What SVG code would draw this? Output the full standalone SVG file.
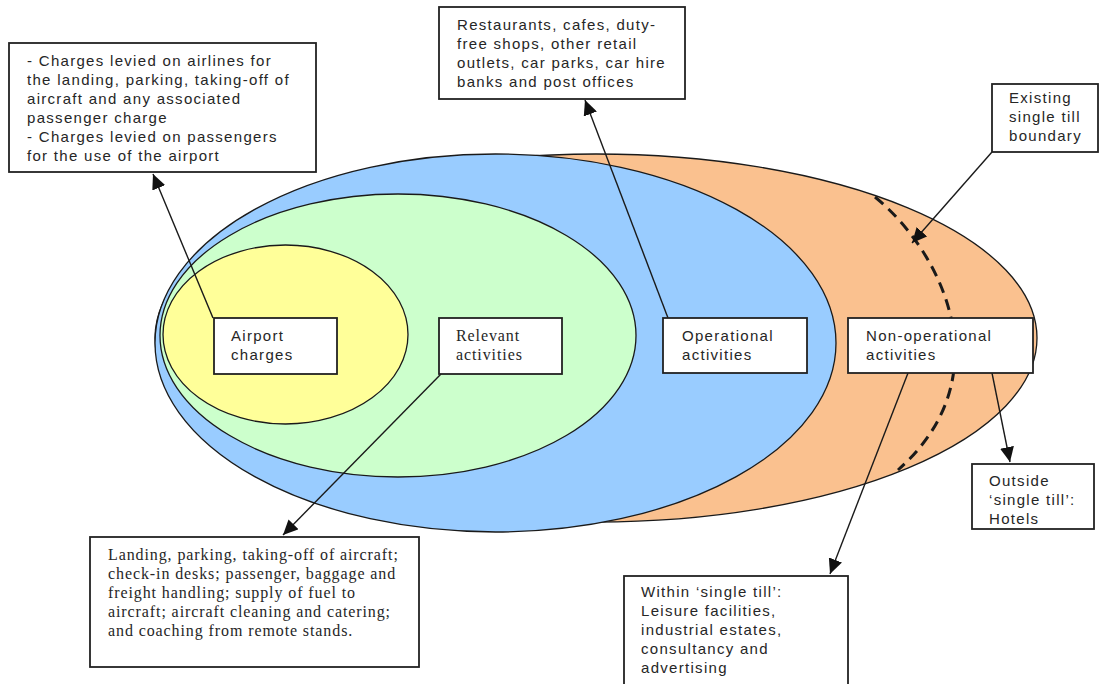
<svg xmlns="http://www.w3.org/2000/svg" width="1106" height="684" viewBox="0 0 1106 684">
<defs>
<style>
.bg{fill:#ffffff}
.ell{stroke:#1a1a1a;stroke-width:1.3}
.box{fill:#ffffff;stroke:#222;stroke-width:1.8}
.sans{font-family:"Liberation Sans",Arial,sans-serif;font-size:15px;letter-spacing:1.3px;fill:#262626}
.serif{font-family:"Liberation Serif","Times New Roman",serif;font-size:16px;letter-spacing:0.9px;fill:#262626}
.arrow{fill:none;stroke:#1a1a1a;stroke-width:1.4;marker-end:url(#ah)}
.bound{fill:none;stroke:#1a1a1a;stroke-width:3;stroke-dasharray:11 7}
</style>
<marker id="ah" markerUnits="userSpaceOnUse" markerWidth="16" markerHeight="14" refX="15" refY="7" orient="auto">
<path d="M0,0 L15,7 L0,14 z" fill="#111"/>
</marker>
</defs>
<rect class="bg" x="0" y="0" width="1106" height="684"/>
<g id="regions">
<ellipse id="non-operational" class="ell" cx="596" cy="338" rx="441" ry="184" fill="#FAC18F"/>
<ellipse id="operational" class="ell" cx="495.5" cy="343" rx="340.5" ry="189" fill="#99CCFF"/>
<ellipse id="relevant" class="ell" cx="398" cy="335.5" rx="238" ry="141.5" fill="#CCFFCC"/>
<ellipse id="airport" class="ell" cx="285.5" cy="334.5" rx="122.5" ry="89.5" fill="#FFFF99"/>
<path id="single-till-boundary" class="bound" d="M875,197 C940,250 1005,375 898,470"/>
</g>
<g id="connectors">
<line class="arrow" x1="213" y1="318" x2="153" y2="174"/>
<line class="arrow" x1="668" y1="318" x2="585" y2="100"/>
<line class="arrow" x1="992" y1="152" x2="912" y2="243"/>
<line class="arrow" x1="441" y1="374" x2="283" y2="535"/>
<line class="arrow" x1="908" y1="373" x2="830" y2="574"/>
<line class="arrow" x1="992" y1="373" x2="1010" y2="462"/>
</g>
<g id="airport-charges-note">
<rect class="box" x="9" y="43" width="307" height="129"/>
<text class="sans" x="27" y="66">- Charges levied on airlines for</text>
<text class="sans" x="27" y="85">the landing, parking, taking-off of</text>
<text class="sans" x="27" y="104">aircraft and any associated</text>
<text class="sans" x="27" y="123">passenger charge</text>
<text class="sans" x="27" y="142">- Charges levied on passengers</text>
<text class="sans" x="27" y="161">for the use of the airport</text>
</g>
<g id="operational-note">
<rect class="box" x="439" y="7" width="246" height="92"/>
<text class="sans" x="457" y="30">Restaurants, cafes, duty-</text>
<text class="sans" x="457" y="49">free shops, other retail</text>
<text class="sans" x="457" y="68">outlets, car parks, car hire</text>
<text class="sans" x="457" y="87">banks and post offices</text>
</g>
<g id="boundary-note">
<rect class="box" x="992" y="84" width="106" height="68"/>
<text class="sans" x="1009" y="103">Existing</text>
<text class="sans" x="1009" y="122">single till</text>
<text class="sans" x="1009" y="141">boundary</text>
</g>
<g id="airport-charges">
<rect class="box" x="214" y="318" width="123" height="56"/>
<text class="sans" x="231" y="341">Airport</text>
<text class="sans" x="231" y="360">charges</text>
</g>
<g id="relevant-activities">
<rect class="box" x="439" y="318" width="123" height="56"/>
<text class="serif" x="456" y="341">Relevant</text>
<text class="serif" x="456" y="360">activities</text>
</g>
<g id="operational-activities">
<rect class="box" x="663" y="318" width="144" height="55"/>
<text class="sans" x="682" y="341">Operational</text>
<text class="sans" x="682" y="360">activities</text>
</g>
<g id="non-operational-activities">
<rect class="box" x="848" y="318" width="185" height="55"/>
<text class="sans" x="866" y="341">Non-operational</text>
<text class="sans" x="866" y="360">activities</text>
</g>
<g id="outside-note">
<rect class="box" x="972" y="464" width="122" height="65"/>
<text class="sans" x="989" y="486">Outside</text>
<text class="sans" x="989" y="505">‘single till’:</text>
<text class="sans" x="989" y="524">Hotels</text>
</g>
<g id="relevant-note">
<rect class="box" x="90" y="537" width="329" height="130"/>
<text class="serif" x="108" y="560">Landing, parking, taking-off of aircraft;</text>
<text class="serif" x="108" y="579">check-in desks; passenger, baggage and</text>
<text class="serif" x="108" y="598">freight handling; supply of fuel to</text>
<text class="serif" x="108" y="617">aircraft; aircraft cleaning and catering;</text>
<text class="serif" x="108" y="636">and coaching from remote stands.</text>
</g>
<g id="within-note">
<rect class="box" x="624" y="576" width="224" height="120"/>
<text class="sans" x="641" y="597">Within ‘single till’:</text>
<text class="sans" x="641" y="616">Leisure facilities,</text>
<text class="sans" x="641" y="635">industrial estates,</text>
<text class="sans" x="641" y="654">consultancy and</text>
<text class="sans" x="641" y="673">advertising</text>
</g>
</svg>
